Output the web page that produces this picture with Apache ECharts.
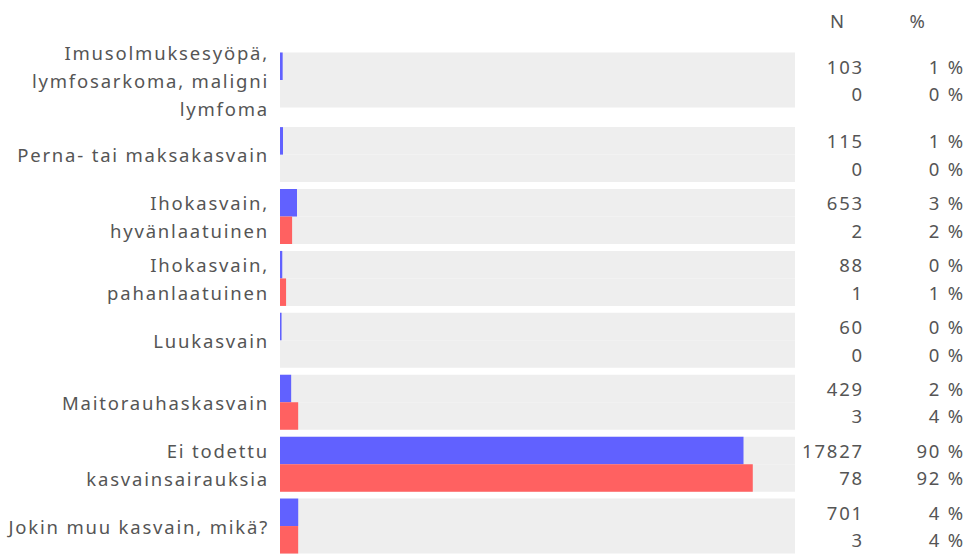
<!DOCTYPE html>
<html><head><meta charset="utf-8">
<script src="https://cdn.jsdelivr.net/npm/echarts@6/dist/echarts.min.js"></script>
<style>html,body{margin:0;padding:0;background:#fff}#c{width:967px;height:557px;letter-spacing:1.8px}</style>
</head><body><div id="c"></div>
<script>
// ---- data ----
const categories = [
  "Imusolmuksesyöpä,\nlymfosarkoma, maligni\nlymfoma",
  "Perna- tai maksakasvain",
  "Ihokasvain,\nhyvänlaatuinen",
  "Ihokasvain,\npahanlaatuinen",
  "Luukasvain",
  "Maitorauhaskasvain",
  "Ei todettu\nkasvainsairauksia",
  "Jokin muu kasvain, mikä?"
];
const blueN = [103, 115, 653, 88, 60, 429, 17827, 701];
const redN = [0, 0, 2, 1, 0, 3, 78, 3];
const bluePct = [0.52, 0.58, 3.3, 0.44, 0.30, 2.17, 90.0, 3.54];
const redPct = [0, 0, 2.35, 1.18, 0, 3.53, 91.8, 3.53];
const headers = ["N", "%"];

// ---- styling ----
const FONT = "'Noto Sans', 'Open Sans', sans-serif";
const FS = 18.5;
const TXT = '#555555';
const BLUE = '#6161ff';
const RED = '#ff6161';
const BG = '#eeeeee';

// two stacked grids: first category needs a taller row (3-line label)
const groups = [
  { start: 0, end: 1, top: 36.25, height: 87.5 },
  { start: 1, end: 8, top: 123.67, height: 438.7 }
];

const grid = [], xAxis = [], yAxis = [], series = [];
groups.forEach((g, gi) => {
  grid.push({ left: 280, width: 515, top: g.top, height: g.height, containLabel: false });
  xAxis.push({ gridIndex: gi, type: 'value', min: 0, max: 100, show: false });
  yAxis.push({
    gridIndex: gi, type: 'category', inverse: true,
    data: categories.slice(g.start, g.end),
    axisLine: { show: false }, axisTick: { show: false }, splitLine: { show: false },
    axisLabel: { margin: 11, color: TXT, fontFamily: FONT, fontSize: FS, lineHeight: 28, align: 'right' }
  });
  [[bluePct, blueN, BLUE], [redPct, redN, RED]].forEach(([pct, n, col]) => {
    series.push({
      type: 'bar', xAxisIndex: gi, yAxisIndex: gi,
      data: pct.slice(g.start, g.end),
      barWidth: 27.5, barGap: '0%',
      itemStyle: { color: col },
      showBackground: true,
      backgroundStyle: { color: BG },
      label: {
        show: true, position: [502, '50%'], align: 'left', verticalAlign: 'middle',
        formatter: p => '{n|' + n[g.start + p.dataIndex] + '}{p|' + Math.round(pct[g.start + p.dataIndex]) + ' %}',
        rich: {
          n: { width: 82, align: 'right', color: TXT, fontFamily: FONT, fontSize: FS },
          p: { width: 101, align: 'right', color: TXT, fontFamily: FONT, fontSize: FS }
        }
      }
    });
  });
});

const chart = echarts.init(document.getElementById('c'), null, { renderer: 'svg' });
chart.setOption({
  animation: false,
  backgroundColor: '#ffffff',
  grid, xAxis, yAxis, series,
  graphic: [
    { type: 'text', x: 838, y: 20, style: { text: headers[0], fill: TXT, font: FS + "px " + FONT, align: 'center', verticalAlign: 'middle' } },
    { type: 'text', x: 918, y: 20, style: { text: headers[1], fill: TXT, font: FS + "px " + FONT, align: 'center', verticalAlign: 'middle' } }
  ]
});
</script>
</body></html>
